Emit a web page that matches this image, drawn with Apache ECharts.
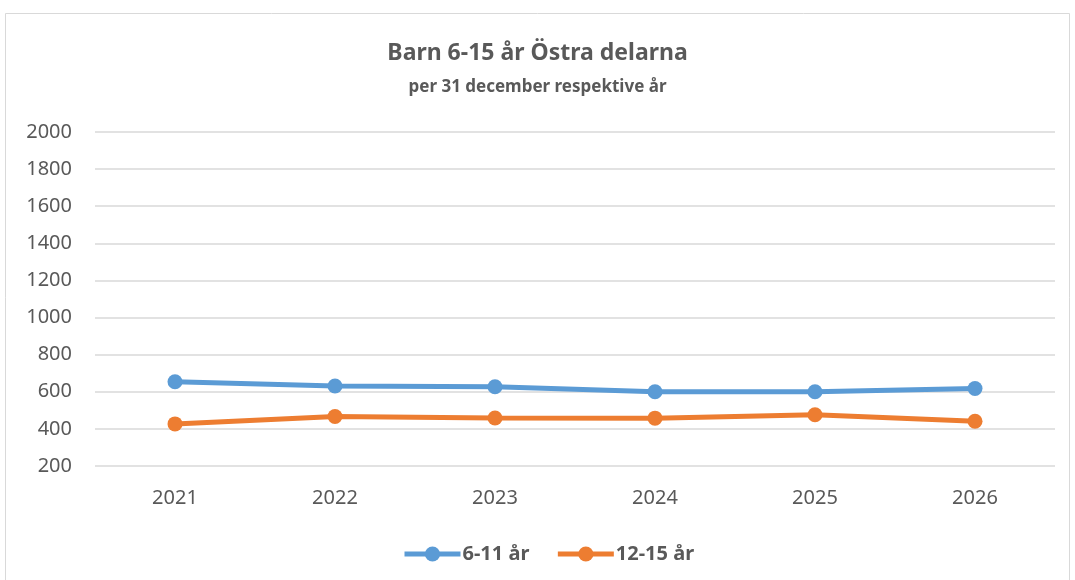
<!DOCTYPE html>
<html>
<head>
<meta charset="utf-8">
<script src="https://cdn.jsdelivr.net/npm/echarts@6/dist/echarts.min.js"></script>
<style>
html, body { margin: 0; padding: 0; background: #ffffff; }
#main { width: 1075px; height: 580px; }
</style>
</head>
<body>
<div id="main"></div>
<script>
// years on the x axis
var years = ['2021', '2022', '2023', '2024', '2025', '2026'];
// 6-11 år
var barn6_11 = [654, 631, 627, 600, 600, 618];
// 12-15 år
var barn12_15 = [427, 467, 459, 458, 476, 441];
var seriesNames = ['6-11 år', '12-15 år'];

var textColor = '#595959';
var fontName = '"Noto Sans", "Open Sans", sans-serif';

var myChart = echarts.init(document.getElementById('main'));
var option = {
	backgroundColor: '#ffffff',
	animation: false,
	textStyle: { fontFamily: fontName, color: textColor },
	graphic: [ {
		type: 'rect',
		shape: { x: 5.5, y: 13.5, width: 1064, height: 580 },
		style: { fill: 'none', stroke: '#d9d9d9', lineWidth: 1 },
		silent: true
	} ],
	title: {
		text: 'Barn 6-15 år Östra delarna',
		subtext: 'per 31 december respektive år',
		left: 'center',
		top: 37,
		itemGap: 14,
		textStyle: { fontSize: 23, fontWeight: 'bold', color: textColor, fontFamily: fontName },
		subtextStyle: { fontSize: 17, fontWeight: 'bold', color: textColor, fontFamily: fontName }
	},
	legend: {
		bottom: 11,
		left: 397,
		itemWidth: 56,
		itemHeight: 19,
		itemGap: 26,
		lineStyle: { width: 5 },
		textStyle: { fontSize: 20, fontWeight: 'bold', color: textColor, fontFamily: fontName, padding: [0, 0, 0, -3] },
		data: seriesNames
	},
	grid: { left: 95, right: 20, top: 132, bottom: 114 },
	xAxis: {
		type: 'category',
		data: years,
		boundaryGap: true,
		axisLine: { show: false },
		axisTick: { show: false },
		axisLabel: { fontSize: 20, color: textColor, margin: 22, fontFamily: fontName }
	},
	yAxis: {
		type: 'value',
		min: 200,
		max: 2000,
		interval: 200,
		axisLine: { show: false },
		axisTick: { show: false },
		axisLabel: {
			fontSize: 20, color: textColor, margin: 23, fontFamily: fontName,
			formatter: function(v) { return String(v); }
		},
		splitLine: { lineStyle: { color: '#d9d9d9', width: 1.5 } }
	},
	series: [ {
		name: seriesNames[0],
		type: 'line',
		data: barn6_11,
		symbol: 'circle',
		symbolSize: 15,
		lineStyle: { width: 5, color: '#5b9bd5' },
		itemStyle: { color: '#5b9bd5' }
	}, {
		name: seriesNames[1],
		type: 'line',
		data: barn12_15,
		symbol: 'circle',
		symbolSize: 15,
		lineStyle: { width: 5, color: '#ed7d31' },
		itemStyle: { color: '#ed7d31' }
	} ]
};
myChart.setOption(option);
</script>
</body>
</html>
